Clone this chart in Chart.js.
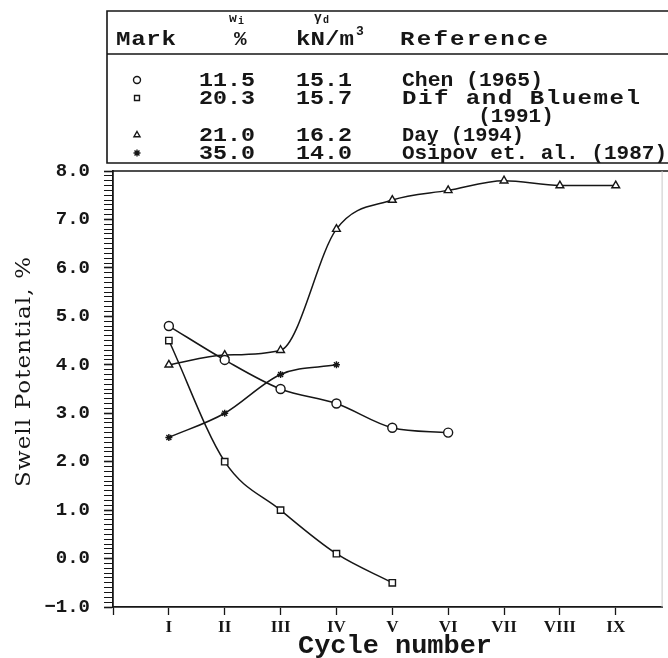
<!DOCTYPE html>
<html>
<head>
<meta charset="utf-8">
<script src="https://cdn.jsdelivr.net/npm/chart.js@4.4.1/dist/chart.umd.min.js"></script>
<style>
  html, body { margin: 0; padding: 0; background: #fff; }
  #wrap { width: 668px; height: 658px; position: relative; }
</style>
</head>
<body>
<div id="wrap"><canvas id="grafico"></canvas></div>
<script>
// ciclos (eixo x) e rotulos
const ciclos = [1, 2, 3, 4, 5, 6, 7, 8, 9];
const ticksX = [0, 1, 2, 3, 4, 5, 6, 7, 8, 9];
const rotulosX = ['', 'I', 'II', 'III', 'IV', 'V', 'VI', 'VII', 'VIII', 'IX'];
const ticksY = [-1, 0, 1, 2, 3, 4, 5, 6, 7, 8];
const rotulosY = ['\u22121.0', '0.0', '1.0', '2.0', '3.0', '4.0', '5.0', '6.0', '7.0', '8.0'];

// swell potential, %
const chen = [4.8, 4.1, 3.5, 3.2, 2.7, 2.6];
const difBluemel = [4.5, 2.0, 1.0, 0.1, -0.5];
const day = [4.0, 4.2, 4.3, 6.8, 7.4, 7.6, 7.8, 7.7, 7.7];
const osipov = [2.5, 3.0, 3.8, 4.0];

// tabela do topo
const marcas = ['circle', 'rect', 'triangle', 'star'];
const umidade = ['11.5', '20.3', '21.0', '35.0'];
const pesoSeco = ['15.1', '15.7', '16.2', '14.0'];
const referencias = ['Chen (1965)', 'Dif and Bluemel', 'Day (1994)', 'Osipov et. al. (1987)'];
const continuacao = ['', '(1991)', '', ''];

const COR = '#161616';

function pontos(valores) {
  return valores.map((v, i) => ({ x: ciclos[i], y: v }));
}

// escreve texto na largura pedida (um pouco esticado, o resto em espacamento)
function escreve(ctx, txt, x, y, largura, alinha) {
  ctx.letterSpacing = '0px';
  const w = ctx.measureText(txt).width;
  const alvo = largura || w;
  const esquerda = alinha === 'center' ? x - alvo / 2 : x;
  ctx.textAlign = 'left';
  const s = Math.min(alvo / w, 1.15);
  const sobra = txt.length > 1 ? (alvo / s - w) / (txt.length - 1) : 0;
  ctx.save();
  ctx.translate(esquerda, y);
  ctx.scale(s, 1);
  if ('letterSpacing' in ctx) ctx.letterSpacing = Math.max(sobra, 0) + 'px';
  ctx.fillText(txt, 0, 0);
  ctx.restore();
  ctx.letterSpacing = '0px';
}

const tabela = {
  id: 'tabela',
  afterDraw(chart) {
    const ctx = chart.ctx;
    const area = chart.chartArea;
    ctx.save();

    // linhas da tabela e topo do grafico
    ctx.strokeStyle = COR;
    ctx.lineWidth = 1.6;
    ctx.beginPath();
    ctx.moveTo(668, 11); ctx.lineTo(107, 11); ctx.lineTo(107, 163); ctx.lineTo(668, 163);
    ctx.moveTo(107, 54); ctx.lineTo(668, 54);
    ctx.moveTo(area.left, area.top); ctx.lineTo(668, area.top);
    ctx.stroke();
    ctx.strokeStyle = '#c8c8c8';
    ctx.lineWidth = 1;
    ctx.beginPath();
    ctx.moveTo(area.right, area.top); ctx.lineTo(area.right, area.bottom);
    ctx.stroke();

    ctx.fillStyle = COR;
    ctx.textBaseline = 'alphabetic';

    // cabecalho
    ctx.font = 'bold 21px "Liberation Mono"';
    escreve(ctx, 'Mark', 116, 45, 60);
    escreve(ctx, '%', 234, 45);
    escreve(ctx, 'kN/m', 296, 45, 58);
    escreve(ctx, 'Reference', 400, 45, 148);
    ctx.font = 'bold 13px "Liberation Mono"';
    escreve(ctx, '3', 356, 35);
    escreve(ctx, 'w', 229, 22);
    escreve(ctx, 'γ', 314, 21);
    ctx.font = 'bold 10px "Liberation Mono"';
    escreve(ctx, 'i', 238, 24);
    escreve(ctx, 'd', 323, 23);

    // linhas de dados
    const linhasY = [80, 98, 135, 153];
    ctx.textBaseline = 'middle';
    ctx.font = 'bold 21px "Liberation Mono"';
    marcas.forEach((m, i) => {
      const y = linhasY[i];
      if (Chart.helpers && Chart.helpers.drawPoint) {
        ctx.save();
        ctx.fillStyle = '#fff';
        ctx.strokeStyle = COR;
        ctx.lineWidth = 1.4;
        Chart.helpers.drawPoint(ctx, { pointStyle: m, radius: 3.5, borderWidth: 1.4, rotation: 0 }, 137, y);
        ctx.restore();
      }
      escreve(ctx, umidade[i], 227, y + 1, 56, 'center');
      escreve(ctx, pesoSeco[i], 324, y + 1, 56, 'center');
      const larg = [141, 238, 122, 265][i];
      escreve(ctx, referencias[i], 402, y + 1, larg);
      if (continuacao[i]) escreve(ctx, continuacao[i], 516, y + 19, 0, 'center');
    });

    // titulos dos eixos
    ctx.textBaseline = 'middle';
    ctx.font = 'bold 25px "Liberation Mono"';
    escreve(ctx, 'Cycle number', 395, 647, 194, 'center');
    ctx.save();
    ctx.translate(25, 372);
    ctx.rotate(-Math.PI / 2);
    ctx.font = '20px "DejaVu Serif"';
    escreve(ctx, 'Swell Potential, %', 0, 0, 230, 'center');
    ctx.restore();

    ctx.restore();
  }
};

function serie(nome, valores, estilo, raio) {
  return {
    label: nome,
    data: pontos(valores),
    borderColor: COR,
    borderWidth: 1.5,
    cubicInterpolationMode: 'monotone',
    pointStyle: estilo,
    pointRadius: raio,
    pointBorderWidth: 1.4,
    pointBorderColor: COR,
    pointBackgroundColor: '#fff',
    fill: false
  };
}

const grafico = new Chart(document.getElementById('grafico'), {
  type: 'line',
  data: {
    datasets: [
      serie('Chen (1965)', chen, 'circle', 4.5),
      serie('Dif and Bluemel (1991)', difBluemel, 'rect', 4.5),
      serie('Day (1994)', day, 'triangle', 4.5),
      serie('Osipov et. al. (1987)', osipov, 'star', 3.5)
    ]
  },
  options: {
    responsive: true,
    maintainAspectRatio: false,
    animation: false,
    layout: { padding: { top: 171, right: 1, left: 0, bottom: 0 } },
    plugins: { legend: { display: false }, tooltip: { enabled: false } },
    scales: {
      x: {
        type: 'linear',
        min: 0,
        max: 9.83,
        afterFit: (s) => { s.height = 51; },
        afterBuildTicks: (s) => { s.ticks = ticksX.map(v => ({ value: v })); },
        border: { display: true, color: COR, width: 1.8 },
        grid: { drawOnChartArea: false, drawTicks: true, tickLength: 8, tickColor: COR, tickWidth: 1.3 },
        ticks: {
          autoSkip: false,
          maxRotation: 0,
          padding: 2,
          color: COR,
          font: { family: '"Liberation Serif"', size: 17, weight: 'bold' },
          callback: (v) => rotulosX[ticksX.indexOf(v)] || ''
        }
      },
      y: {
        min: -1,
        max: 8,
        afterFit: (s) => { s.width = 113; },
        border: { display: true, color: COR, width: 1.8 },
        grid: {
          drawOnChartArea: false,
          drawTicks: true,
          tickLength: 9,
          tickColor: COR,
          tickWidth: (c) => (Number.isInteger(c.tick && c.tick.value) ? 1.6 : 1)
        },
        ticks: {
          stepSize: 0.1,
          autoSkip: false,
          padding: 14,
          color: COR,
          font: { family: '"Liberation Mono"', size: 19, weight: 'bold' },
          callback: (v) => {
            const i = ticksY.indexOf(v);
            return i >= 0 ? rotulosY[i] : '';
          }
        }
      }
    }
  },
  plugins: [tabela]
});
</script>
</body>
</html>
